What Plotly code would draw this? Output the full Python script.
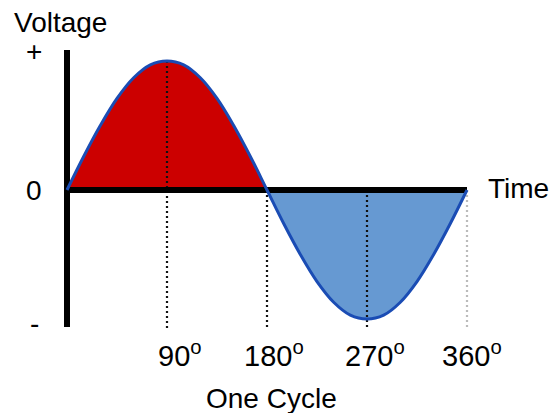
import plotly.graph_objects as go

# ---- data ----
angles = [0, 15, 30, 45, 60, 75, 90, 105, 120, 135, 150, 165, 180,
          195, 210, 225, 240, 255, 270, 285, 300, 315, 330, 345, 360]
voltage = [0, 0.26, 0.50, 0.71, 0.87, 0.97, 1.00, 0.97, 0.87, 0.71, 0.50, 0.26, 0,
           -0.26, -0.50, -0.71, -0.87, -0.97, -1.00, -0.97, -0.87, -0.71, -0.50, -0.26, 0]
tick_angles = [90, 180, 270, 360]
tick_labels = ["90<sup>o</sup>", "180<sup>o</sup>", "270<sup>o</sup>", "360<sup>o</sup>"]
tick_colors = ["#111111", "#111111", "#111111", "#bbbbbb"]
level_labels = ["+", "0", "-"]

W, H = 554, 413
X0PX, Y0PX = 67, 190        # pixel of origin
PX_PER_DEG = 100 / 90
PX_PER_V = 129

def px_to_deg(px):
    return (px - X0PX) / PX_PER_DEG

def py_to_v(py):
    return (Y0PX - py) / PX_PER_V

half = angles.index(180)
fig = go.Figure()

# positive half fill (red)
fig.add_trace(go.Scatter(x=angles[:half + 1], y=voltage[:half + 1], mode="lines",
                         line=dict(width=0, shape="spline", color="#cc0000"),
                         fill="tozeroy", fillcolor="#cc0000", hoverinfo="skip"))
# negative half fill (blue)
fig.add_trace(go.Scatter(x=angles[half:], y=voltage[half:], mode="lines",
                         line=dict(width=0, shape="spline", color="#6699d2"),
                         fill="tozeroy", fillcolor="#6699d2", hoverinfo="skip"))

# dotted guide lines
dot_bottom = py_to_v(330)
for a, c in zip(tick_angles, tick_colors):
    top = voltage[angles.index(a)] if voltage[angles.index(a)] > 0 else 0
    fig.add_trace(go.Scatter(x=[a, a], y=[top, dot_bottom], mode="lines",
                             line=dict(color=c, width=2.2, dash="2px,3px"),
                             hoverinfo="skip"))

# axes (thick black)
fig.add_trace(go.Scatter(x=[angles[0], angles[-1]], y=[0, 0], mode="lines",
                         line=dict(color="black", width=6), hoverinfo="skip"))
fig.add_trace(go.Scatter(x=[angles[0], angles[0]], y=[py_to_v(50), py_to_v(327)], mode="lines",
                         line=dict(color="black", width=6), hoverinfo="skip"))

# the sine curve
fig.add_trace(go.Scatter(x=angles, y=voltage, mode="lines",
                         line=dict(color="#1a4cb4", width=3, shape="spline"),
                         hoverinfo="skip"))

font = dict(family="Liberation Sans, Arial, sans-serif", size=28, color="black")
ann = []
def add_text(text, px, py, size=28, xanchor="center"):
    ann.append(dict(text=text, x=px / W, y=1 - py / H, xref="paper", yref="paper",
                    showarrow=False, xanchor=xanchor, yanchor="middle",
                    font=dict(font, size=size)))

add_text("Voltage", 60, 22)
for lab, py in zip(level_labels, [52, 191, 323]):
    add_text(lab, 34, py)
add_text("Time", 518, 188)
for a, lab, cx in zip(tick_angles, tick_labels, [180, 274, 375, 472]):
    add_text(lab, cx, 354, size=29)
add_text("One Cycle", 271, 398)

fig.update_layout(
    width=W, height=H, margin=dict(l=0, r=0, t=0, b=0),
    paper_bgcolor="white", plot_bgcolor="white", showlegend=False,
    xaxis=dict(range=[px_to_deg(0), px_to_deg(W)], visible=False, fixedrange=True),
    yaxis=dict(range=[py_to_v(H), py_to_v(0)], visible=False, fixedrange=True),
    annotations=ann,
)

fig.write_html("out.html", config={"displayModeBar": False},
               post_script="document.body.style.margin='0';document.body.style.overflow='hidden';")
